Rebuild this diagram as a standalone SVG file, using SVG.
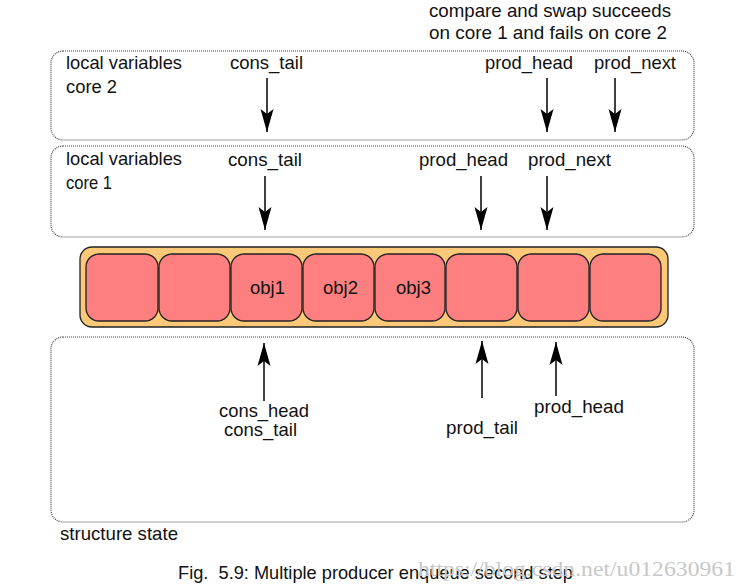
<svg xmlns="http://www.w3.org/2000/svg" width="749" height="587" viewBox="0 0 749 587">
<style>
.t{font-family:"Liberation Sans",Arial,sans-serif;font-size:18.5px;fill:#111}
.box{fill:none;stroke:#444;stroke-width:1.2;stroke-dasharray:1 1}
.cell{fill:#fd7f7f;stroke:#222;stroke-width:1.3}
.arr{stroke:#000;stroke-width:1.5;fill:none;marker-end:url(#ah)}
.wm{font-family:"Liberation Serif",serif;fill:#c8c8c8}
</style>
<defs>
<marker id="ah" markerUnits="userSpaceOnUse" markerWidth="26" markerHeight="16" viewBox="-24 -8 26 16" refX="0" refY="0" orient="auto">
<path d="M0,0 L-23,-6.5 L-18,0 L-23,6.5 Z" fill="#000"/>
</marker>
</defs>
<rect width="749" height="587" fill="#fff"/>
<g id="note">
<text class="t" x="429" y="17" textLength="242" lengthAdjust="spacingAndGlyphs">compare and swap succeeds</text>
<text class="t" x="429" y="39" textLength="238" lengthAdjust="spacingAndGlyphs">on core 1 and fails on core 2</text>
</g>
<g id="core2">
<rect class="box" x="51" y="51" width="643" height="89" rx="12"/>
<text class="t" x="66" y="69" textLength="116" lengthAdjust="spacingAndGlyphs">local variables</text>
<text class="t" x="66" y="93" textLength="51" lengthAdjust="spacingAndGlyphs">core 2</text>
<text class="t" x="230" y="69" textLength="73" lengthAdjust="spacingAndGlyphs">cons_tail</text>
<text class="t" x="485" y="69" textLength="88" lengthAdjust="spacingAndGlyphs">prod_head</text>
<text class="t" x="594" y="69" textLength="82" lengthAdjust="spacingAndGlyphs">prod_next</text>
</g>
<g id="core1">
<rect class="box" x="51" y="146" width="643" height="91" rx="12"/>
<text class="t" x="66" y="165" textLength="116" lengthAdjust="spacingAndGlyphs">local variables</text>
<text class="t" x="66" y="189" textLength="46" lengthAdjust="spacingAndGlyphs">core 1</text>
<text class="t" x="228" y="166" textLength="74" lengthAdjust="spacingAndGlyphs">cons_tail</text>
<text class="t" x="419" y="166" textLength="89" lengthAdjust="spacingAndGlyphs">prod_head</text>
<text class="t" x="528" y="166" textLength="83" lengthAdjust="spacingAndGlyphs">prod_next</text>
</g>
<g id="ring">
<rect x="80" y="247" width="588" height="80" rx="12" fill="#fdc978" stroke="#222" stroke-width="1.3"/>
<rect class="cell" x="86" y="254" width="72" height="67" rx="13"/>
<rect class="cell" x="159" y="254" width="71" height="67" rx="13"/>
<rect class="cell" x="231" y="254" width="71" height="67" rx="13"/>
<rect class="cell" x="303" y="254" width="71" height="67" rx="13"/>
<rect class="cell" x="375" y="254" width="70" height="67" rx="13"/>
<rect class="cell" x="446" y="254" width="71" height="67" rx="13"/>
<rect class="cell" x="518" y="254" width="71" height="67" rx="13"/>
<rect class="cell" x="590" y="254" width="71" height="67" rx="13"/>
<text class="t" x="250" y="294" textLength="35" lengthAdjust="spacingAndGlyphs">obj1</text>
<text class="t" x="323" y="294" textLength="35" lengthAdjust="spacingAndGlyphs">obj2</text>
<text class="t" x="396" y="294" textLength="35" lengthAdjust="spacingAndGlyphs">obj3</text>
</g>
<g id="structure">
<rect class="box" x="51" y="337" width="643" height="185" rx="12"/>
<text class="t" x="219" y="417" textLength="90" lengthAdjust="spacingAndGlyphs">cons_head</text>
<text class="t" x="224" y="436" textLength="73" lengthAdjust="spacingAndGlyphs">cons_tail</text>
<text class="t" x="446" y="434" textLength="72" lengthAdjust="spacingAndGlyphs">prod_tail</text>
<text class="t" x="534" y="413" textLength="90" lengthAdjust="spacingAndGlyphs">prod_head</text>
<text class="t" x="60" y="540" textLength="118" lengthAdjust="spacingAndGlyphs">structure state</text>
</g>
<g id="connectors">
<line class="arr" x1="267" y1="78" x2="267" y2="132"/>
<line class="arr" x1="547" y1="78" x2="547" y2="132"/>
<line class="arr" x1="615" y1="78" x2="615" y2="132"/>
<line class="arr" x1="265" y1="176" x2="265" y2="230"/>
<line class="arr" x1="481" y1="176" x2="481" y2="230"/>
<line class="arr" x1="547" y1="176" x2="547" y2="230"/>
<line class="arr" x1="264" y1="401" x2="264" y2="343"/>
<line class="arr" x1="482" y1="398" x2="482" y2="341"/>
<line class="arr" x1="556" y1="396" x2="556" y2="342"/>
</g>
<g id="caption">
<text class="t" x="178" y="579" textLength="395" lengthAdjust="spacingAndGlyphs">Fig.&#160; 5.9: Multiple producer enqueue second step</text>
<text class="wm" x="418" y="576" font-size="20" textLength="317" lengthAdjust="spacingAndGlyphs">https://blog.csdn.net/u012630961</text>
</g>
</svg>
